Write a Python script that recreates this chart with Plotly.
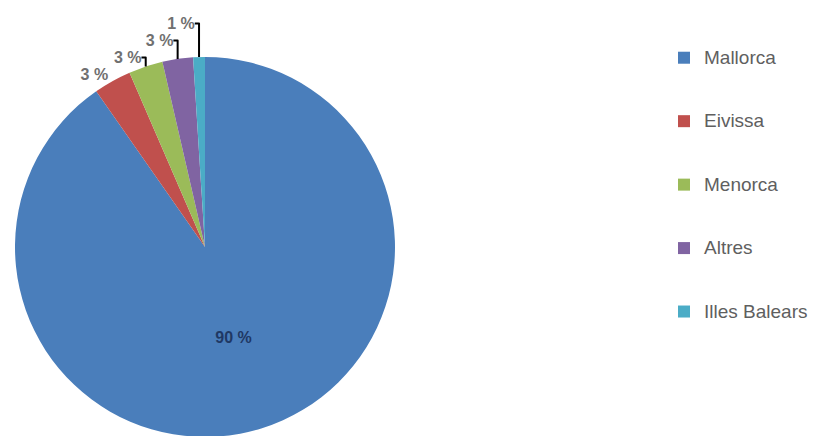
import plotly.graph_objects as go

labels = ["Mallorca", "Eivissa", "Menorca", "Altres", "Illes Balears"]
values = [90.3, 3.2, 2.9, 2.6, 1.0]
colors = ["#4A7EBB", "#C0504D", "#9BBB59", "#8064A2", "#4BACC6"]

text_colors = ["#1F3864", "#707070", "#707070", "#707070", "#707070"]
positions = ["inside", "outside", "outside", "outside", "outside"]

legend_labels = ["<br><span style='font-size:19px'>%s</span><br>" % l for l in labels]

fig = go.Figure(go.Pie(
    labels=legend_labels,
    values=values,
    sort=False,
    direction="clockwise",
    rotation=0,
    marker=dict(colors=colors, line=dict(width=0)),
    texttemplate="%{value:.0f} %",
    textposition=positions,
    insidetextorientation="horizontal",
    textfont=dict(family="Liberation Sans", size=16, color=text_colors, weight="bold"),
    domain=dict(x=[7/816, 387/816], y=[7/436, 387/436]),
    hoverinfo="label+percent",
))

fig.update_layout(
    width=816, height=436,
    margin=dict(l=0, r=0, t=0, b=0, autoexpand=False),
    paper_bgcolor="white",
    plot_bgcolor="white",
    showlegend=True,
    legend=dict(
        x=656/816, y=1 - 13/436, xanchor="left", yanchor="top",
        font=dict(family="Liberation Sans", size=15.5, color="#5f5f5f"),
        bgcolor="rgba(0,0,0,0)",
    ),
)

fig.write_html("out.html")
